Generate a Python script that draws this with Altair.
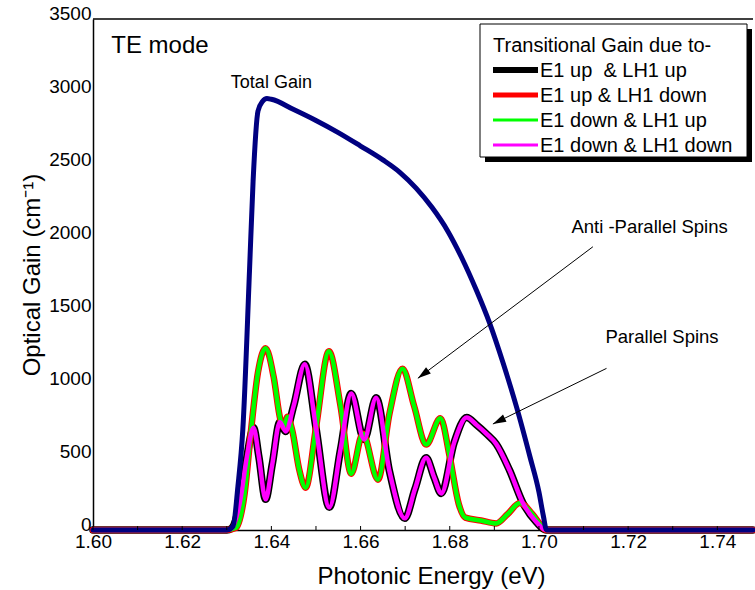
import math
import altair as alt
import pandas as pd

# ---- data -------------------------------------------------------------
# Total optical gain (cm^-1) against photon energy (eV)
energy_total = [1.600, 1.630, 1.6314, 1.6325, 1.6336, 1.6351, 1.6359, 1.6370,
                1.6380, 1.6390, 1.6400, 1.6450, 1.6500, 1.6550, 1.6600, 1.6650,
                1.6688, 1.6725, 1.6760, 1.6795, 1.6826, 1.6860, 1.6889, 1.6920,
                1.6950, 1.6980, 1.7000, 1.7010, 1.7017, 1.748]
gain_total = [0, 0, 25, 300, 690, 1780, 2390, 2870,
              2935, 2955, 2950, 2880, 2805, 2722, 2630, 2535,
              2450, 2340, 2210, 2050, 1870, 1640, 1420, 1140,
              840, 500, 260, 95, 0, 0]

# Anti-parallel spin transitions (E1 up & LH1 down, E1 down & LH1 up)
energy_anti = [1.600, 1.630, 1.6321, 1.6340, 1.6355, 1.6370, 1.6387, 1.6405,
               1.6420, 1.6428, 1.6436, 1.6447, 1.6462, 1.6477, 1.6500, 1.6529,
               1.6555, 1.6579, 1.6605, 1.6639, 1.6665, 1.6694, 1.6720, 1.6747,
               1.6779, 1.6800, 1.6820, 1.6835, 1.6870, 1.6904, 1.6930, 1.6957,
               1.6985, 1.7005, 1.7016, 1.748]
gain_anti = [0, 0, 15, 250, 700, 1080, 1245, 1050,
             760, 705, 775, 680, 420, 290, 700, 1225,
             850, 385, 660, 345, 800, 1105, 850, 585,
             765, 500, 180, 85, 65, 45, 110, 185,
             110, 30, 0, 0]

# Parallel spin transitions (E1 up & LH1 up, E1 down & LH1 down)
energy_par = [1.600, 1.630, 1.6310, 1.6330, 1.6345, 1.6360, 1.6372, 1.6387,
              1.6402, 1.6419, 1.6432, 1.6450, 1.6475, 1.6500, 1.6530, 1.6555,
              1.6579, 1.6608, 1.6635, 1.6665, 1.6699, 1.6722, 1.6747, 1.6765,
              1.6781, 1.6810, 1.6838, 1.6860, 1.6882, 1.6904, 1.6934, 1.6964,
              1.6994, 1.7016, 1.748]
gain_par = [0, 0, 10, 200, 500, 700, 500, 210,
            450, 740, 675, 850, 1135, 700, 155, 550,
            935, 620, 905, 400, 80, 280, 495, 360,
            250, 600, 770, 720, 660, 590, 410, 185,
            55, 0, 0]

x_tick_values = [1.60, 1.62, 1.64, 1.66, 1.68, 1.70, 1.72, 1.74]
x_minor_ticks = [1.60, 1.61, 1.62, 1.63, 1.64, 1.65, 1.66, 1.67, 1.68, 1.69,
                 1.70, 1.71, 1.72, 1.73, 1.74]
y_tick_values = [0, 500, 1000, 1500, 2000, 2500, 3000, 3500]

legend_title = "Transitional Gain due to-"
legend_labels = ["E1 up\u00a0 & LH1 up", "E1 up & LH1 down",
                 "E1 down & LH1 up", "E1 down & LH1 down"]

# arrow annotations: start (x0, y0) -> tip (x1, y1)
arrow_x0 = [1.7121, 1.71515]
arrow_y0 = [1940, 1107]
arrow_x1 = [1.67285, 1.68967]
arrow_y1 = [1039, 726]
arrow_text = ["Anti -Parallel Spins", "Parallel Spins"]
arrow_text_x = [1.7248, 1.7276]
arrow_text_y = [2032, 1279]

# ---- layout ------------------------------------------------------------
W, H = 660, 511
X_DOMAIN = [1.60, 1.748]
Y_DOMAIN = [0, 3500]
FONT = "Liberation Sans"

BLUE = "#000080"
RED = "#ff0000"
GREEN = "#00ff00"
MAGENTA = "#ff00ff"
BLACK = "#000000"

xs = alt.Scale(domain=X_DOMAIN, nice=False, zero=False)
ys = alt.Scale(domain=Y_DOMAIN, nice=False, zero=False)

x_axis = alt.Axis(
    values=x_tick_values, format=".2f", title="Photonic Energy (eV)",
    grid=False, ticks=False, labelFontSize=19, labelPadding=2,
    labelFlush=False, labelOverlap=False, labelBaseline="top",
    domainColor=BLACK, domainWidth=1.5, labelColor=BLACK,
    titleFontSize=24, titleFontWeight="normal", titleColor=BLACK,
    titleX=338, titleY=53, titleAlign="center", titleBaseline="alphabetic",
)
y_axis = alt.Axis(
    values=y_tick_values, format="d", title="Optical Gain (cm\u207b\u00b9)",
    grid=False, ticks=False, labelFontSize=19, labelPadding=2,
    labelFlush=False, labelOverlap=False, labelBaseline="alphabetic",
    domainColor=BLACK, domainWidth=1.5, labelColor=BLACK,
    titleFontSize=24, titleFontWeight="normal", titleColor=BLACK,
    titleX=-54, titleY=H / 2, titleAngle=270, titleAlign="center",
    titleBaseline="alphabetic",
)


def X(field="x"):
    return alt.X(f"{field}:Q", scale=xs, axis=x_axis)


def Y(field="y"):
    return alt.Y(f"{field}:Q", scale=ys, axis=y_axis)


df_total = pd.DataFrame({"x": energy_total, "y": gain_total})
df_anti = pd.DataFrame({"x": energy_anti, "y": gain_anti})
df_par = pd.DataFrame({"x": energy_par, "y": gain_par})


def curve(df, color, width):
    return alt.Chart(df).mark_line(
        color=color, strokeWidth=width, interpolate="monotone",
        strokeCap="round", strokeJoin="round"
    ).encode(x=X(), y=Y())


lines = [
    curve(df_par, BLACK, 7.5),      # E1 up & LH1 up
    curve(df_anti, RED, 6.5),       # E1 up & LH1 down
    curve(df_anti, GREEN, 4.5),     # E1 down & LH1 up
    curve(df_par, MAGENTA, 4.5),    # E1 down & LH1 down
    curve(df_total, BLUE, 5),       # total gain
]

# inward minor ticks on the energy axis
ticks = alt.Chart(pd.DataFrame({"x": x_minor_ticks})).mark_rule(
    color=BLACK, strokeWidth=1
).encode(x=X(), y=alt.value(H), y2=alt.value(H - 4))

# top frame line
top_frame = alt.Chart(pd.DataFrame({"k": [0]})).mark_rule(
    color=BLACK, strokeWidth=1.5
).encode(x=alt.value(0), x2=alt.value(W), y=alt.value(0))

# arrows
kx = W / (X_DOMAIN[1] - X_DOMAIN[0])
ky = H / (Y_DOMAIN[1] - Y_DOMAIN[0])
arrows = pd.DataFrame({"x": arrow_x0, "y": arrow_y0, "x2": arrow_x1, "y2": arrow_y1})
arrows["angle"] = [
    math.degrees(math.atan2((x1 - x0) * kx, (y1 - y0) * ky)) % 360
    for x0, y0, x1, y1 in zip(arrow_x0, arrow_y0, arrow_x1, arrow_y1)
]
arrow_lines = alt.Chart(arrows).mark_rule(color=BLACK, strokeWidth=1).encode(
    x=X(), y=Y(), x2=alt.X2("x2:Q"), y2=alt.Y2("y2:Q")
)
arrow_heads = alt.Chart(arrows).mark_point(
    shape="M0,0L0.3,1L-0.3,1Z", filled=True, color=BLACK, opacity=1,
    size=700, strokeWidth=0
).encode(x=X("x2"), y=Y("y2"), angle=alt.Angle("angle:Q", scale=None))

arrow_labels = alt.Chart(pd.DataFrame({
    "x": arrow_text_x, "y": arrow_text_y, "t": arrow_text
})).mark_text(
    font=FONT, fontSize=18.5, color=BLACK, align="center", baseline="alphabetic"
).encode(x=X(), y=Y(), text="t:N")

total_label = alt.Chart(pd.DataFrame({
    "x": [1.640], "y": [3027], "t": ["Total Gain"]
})).mark_text(
    font=FONT, fontSize=18, color=BLACK, align="center", baseline="alphabetic"
).encode(x=X(), y=Y(), text="t:N")

mode_label = alt.Chart(pd.DataFrame({
    "x": [1.6041], "y": [3267], "t": ["TE mode"]
})).mark_text(
    font=FONT, fontSize=24, color=BLACK, align="left", baseline="alphabetic"
).encode(x=X(), y=Y(), text="t:N")

# ---- legend box (pixel layout inside the plot area) ----------------------
LX0, LX1, LY0, LY1 = 387, 654, 5, 138
SHADOW = 5
shadow = alt.Chart(pd.DataFrame({"k": [0]})).mark_rect(color=BLACK).encode(
    x=alt.value(LX0 + SHADOW), x2=alt.value(LX1 + SHADOW),
    y=alt.value(LY0 + SHADOW), y2=alt.value(LY1 + SHADOW)
)
box = alt.Chart(pd.DataFrame({"k": [0]})).mark_rect(
    fill="white", stroke=BLACK, strokeWidth=1
).encode(x=alt.value(LX0), x2=alt.value(LX1), y=alt.value(LY0), y2=alt.value(LY1))
box_title = alt.Chart(pd.DataFrame({"t": [legend_title]})).mark_text(
    font=FONT, fontSize=20, color=BLACK, align="left", baseline="alphabetic"
).encode(x=alt.value(LX0 + 13), y=alt.value(LY0 + 27.7), text="t:N")

row_y = [LY0 + 46 + 25 * i for i in range(len(legend_labels))]
legend_rows = pd.DataFrame({
    "label": legend_labels,
    "ly": row_y,
    "ty": [r + 6.7 for r in row_y],
    "x0": [LX0 + 13] * len(legend_labels),
    "x1": [LX0 + 58] * len(legend_labels),
    "tx": [LX0 + 60] * len(legend_labels),
    "color": [BLACK, RED, GREEN, MAGENTA],
    "w": [6, 5, 3, 3],
})
legend_lines = alt.Chart(legend_rows).mark_rule().encode(
    x=alt.X("x0:Q", scale=None, axis=None),
    x2="x1:Q",
    y=alt.Y("ly:Q", scale=None, axis=None),
    color=alt.Color("color:N", scale=None),
    strokeWidth=alt.StrokeWidth("w:Q", scale=None),
)
legend_text = alt.Chart(legend_rows).mark_text(
    font=FONT, fontSize=20, color=BLACK, align="left", baseline="alphabetic"
).encode(
    x=alt.X("tx:Q", scale=None, axis=None),
    y=alt.Y("ty:Q", scale=None, axis=None),
    text="label:N",
)

chart = alt.layer(
    *lines, ticks, top_frame, arrow_lines, arrow_heads, arrow_labels,
    total_label, mode_label, shadow, box, box_title, legend_lines, legend_text
).properties(
    width=W, height=H,
    padding={"left": 93, "top": 19, "right": 2, "bottom": 60},
    autosize=alt.AutoSizeParams(type="none"),
    background="white",
).configure_view(stroke=None).configure_axis(
    labelFont=FONT, titleFont=FONT
).configure_text(font=FONT)

chart.save("out.html", embed_options={"renderer": "svg", "actions": False})
